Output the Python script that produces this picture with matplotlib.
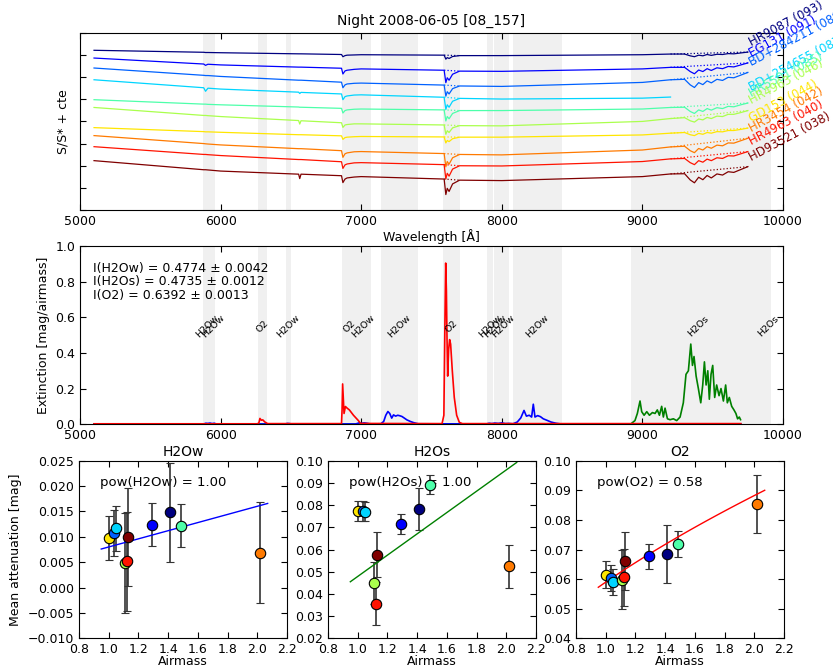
import matplotlib
matplotlib.use('Agg')
import matplotlib.pyplot as plt
from matplotlib.ticker import MultipleLocator
import numpy as np

plt.rcParams['font.family'] = 'DejaVu Sans'
plt.rcParams['font.size'] = 9
plt.rcParams['xtick.direction'] = 'in'
plt.rcParams['ytick.direction'] = 'in'
plt.rcParams['xtick.top'] = True
plt.rcParams['ytick.right'] = True
plt.rcParams['xtick.major.size'] = 4
plt.rcParams['ytick.major.size'] = 4

# Standard stars of the night (top to bottom in the spectra panel)
star_names = ['HR9087', 'EG131', 'BD+284211', 'BD+254655', 'HR5501',
              'HR4963', 'GD153', 'HR3454', 'HR4963', 'HD93521']
star_ids = ['093', '091', '089', '087', '085', '046', '044', '042', '040', '038']
airmass = [1.41, 1.29, 1.035, 1.05, 1.485, 1.11, 1.00, 2.02, 1.125, 1.13]

# Normalised spectra S/S* + cte
wl_spec = [5100, 5880, 5893, 5910, 6000, 6555, 6563, 6572, 6860, 6870, 6885, 6900,
           6950, 7000, 7590, 7602, 7612, 7625, 7650, 7700, 8000, 9000, 9200, 9300,
           9340, 9370, 9400, 9430, 9460, 9490, 9530, 9570, 9610, 9650, 9700, 9750]
hr9087 = [7.21, 7.12, 7.11, 7.11, 7.10, 7.05, 7.05, 7.05, 7.02, 6.92, 6.97, 6.99,
          7.00, 7.01, 6.99, 6.81, 6.88, 6.84, 6.93, 6.97, 6.97, 7.01, 7.04, 7.04,
          6.96, 6.92, 6.99, 6.96, 7.02, 6.98, 7.03, 7.02, 7.06, 7.05, 7.09, 7.13]
eg131 = [6.86, 6.59, 6.53, 6.58, 6.55, 6.45, 6.45, 6.45, 6.40, 6.14, 6.28, 6.31,
         6.35, 6.37, 6.31, 5.75, 5.97, 5.86, 6.13, 6.27, 6.26, 6.37, 6.44, 6.44,
         6.25, 6.15, 6.32, 6.25, 6.38, 6.30, 6.42, 6.38, 6.48, 6.46, 6.55, 6.64]
bd284211 = [6.41, 6.08, 6.07, 6.07, 6.03, 5.86, 5.86, 5.86, 5.77, 5.52, 5.65, 5.69,
            5.72, 5.73, 5.64, 5.14, 5.34, 5.24, 5.48, 5.60, 5.58, 5.76, 5.88, 5.90,
            5.65, 5.53, 5.75, 5.66, 5.83, 5.74, 5.90, 5.85, 5.99, 5.97, 6.09, 6.21]
bd254655 = [5.88, 5.52, 5.36, 5.50, 5.46, 5.32, 5.26, 5.31, 5.24, 4.98, 5.12, 5.15,
            5.19, 5.20, 5.09, 4.54, 4.75, 4.64, 4.91, 5.04, 5.01, 5.05, 5.10] + [np.nan] * 13
hr5501 = [4.98, 4.78, 4.78, 4.77, 4.75, 4.65, 4.64, 4.64, 4.59, 4.38, 4.49, 4.52,
          4.55, 4.56, 4.52, 4.02, 4.22, 4.12, 4.36, 4.49, 4.49, 4.56, 4.63, 4.64,
          4.45, 4.36, 4.52, 4.45, 4.58, 4.51, 4.62, 4.58, 4.68, 4.66, 4.75, 4.83]
hr4963_a = [4.63, 4.27, 4.27, 4.26, 4.22, 4.04, 3.88, 4.03, 3.94, 3.73, 3.84, 3.86,
            3.89, 3.89, 3.84, 3.42, 3.58, 3.50, 3.71, 3.81, 3.80, 4.00, 4.13, 4.17,
            4.03, 3.97, 4.11, 4.07, 4.18, 4.13, 4.24, 4.22, 4.32, 4.32, 4.40, 4.49]
gd153 = [3.72, 3.54, 3.53, 3.53, 3.51, 3.40, 3.40, 3.40, 3.35, 3.19, 3.27, 3.29,
         3.31, 3.32, 3.30, 3.03, 3.14, 3.09, 3.22, 3.29, 3.29, 3.39, 3.47, 3.50,
         3.40, 3.36, 3.46, 3.42, 3.50, 3.47, 3.54, 3.53, 3.59, 3.59, 3.64, 3.70]
hr3454 = [3.36, 3.00, 2.99, 2.98, 2.94, 2.77, 2.77, 2.77, 2.68, 2.38, 2.54, 2.58,
          2.63, 2.64, 2.55, 1.95, 2.19, 2.07, 2.36, 2.51, 2.49, 2.71, 2.85, 2.88,
          2.68, 2.59, 2.78, 2.71, 2.86, 2.79, 2.93, 2.90, 3.03, 3.02, 3.13, 3.24]
hr4963_b = [2.86, 2.51, 2.51, 2.50, 2.46, 2.28, 2.28, 2.28, 2.18, 1.88, 2.04, 2.08,
            2.13, 2.14, 2.05, 1.40, 1.66, 1.53, 1.85, 2.00, 1.99, 2.19, 2.31, 2.33,
            2.14, 2.05, 2.23, 2.16, 2.30, 2.23, 2.36, 2.33, 2.45, 2.44, 2.54, 2.64]
hd93521 = [2.23, 1.82, 1.82, 1.81, 1.76, 1.62, 1.42, 1.62, 1.55, 1.24, 1.40, 1.45,
           1.49, 1.51, 1.40, 0.70, 0.98, 0.84, 1.18, 1.35, 1.33, 1.51, 1.63, 1.64,
           1.36, 1.23, 1.48, 1.37, 1.56, 1.45, 1.63, 1.58, 1.73, 1.70, 1.83, 1.96]
spectra = [hr9087, eg131, bd284211, bd254655, hr5501,
           hr4963_a, gd153, hr3454, hr4963_b, hd93521]

# Telluric bands
band_lo = [5877, 5937, 6268, 6466, 6865, 6967, 7141, 7580, 7893, 7943, 7975, 8082, 8916, 9880]
band_hi = [5937, 5963, 6327, 6500, 6967, 7067, 7406, 7703, 7940, 7970, 8053, 8426, 9880, 9912]
band_name = ['H2Ow', 'H2Ow', 'O2', 'H2Ow', 'O2', 'H2Ow', 'H2Ow', 'O2',
             'H2Ow', 'H2Ow', 'H2Ow', 'H2Ow', 'H2Os', 'H2Os']

# Extinction per component [mag/airmass]
wl_o2 = [5100, 6260, 6272, 6280, 6290, 6300, 6315, 6335, 6860, 6864, 6868, 6878,
         6888, 6900, 6916, 6945, 6980, 6995, 7575, 7588, 7596, 7601, 7606, 7610,
         7615, 7622, 7629, 7636, 7648, 7662, 7679, 7698, 7720, 9700]
ext_o2 = [0.002, 0.002, 0.006, 0.032, 0.022, 0.024, 0.012, 0.003, 0.003, 0.08, 0.226, 0.06,
          0.099, 0.09, 0.08, 0.05, 0.02, 0.004, 0.003, 0.05, 0.60, 0.905, 0.75, 0.50,
          0.27, 0.42, 0.475, 0.45, 0.30, 0.15, 0.05, 0.01, 0.003, 0.003]
wl_h2ow = [5100, 5880, 5895, 5910, 5925, 5940, 5955, 5970, 6460, 6475, 6490, 6505,
           6960, 6985, 7000, 7020, 7040, 7065, 7140, 7160, 7175, 7190, 7203, 7217,
           7230, 7245, 7260, 7275, 7290, 7305, 7325, 7350, 7375, 7405, 7890, 7910,
           7930, 7950, 7975, 8000, 8025, 8050, 8080, 8110, 8135, 8158, 8175, 8195,
           8212, 8224, 8236, 8255, 8275, 8295, 8320, 8350, 8385, 8420, 9700]
ext_h2ow = [0.001, 0.001, 0.005, 0.004, 0.006, 0.003, 0.005, 0.001, 0.001, 0.004, 0.003, 0.001,
            0.001, 0.007, 0.004, 0.007, 0.005, 0.001, 0.002, 0.015, 0.05, 0.071, 0.06, 0.034,
            0.052, 0.045, 0.050, 0.047, 0.043, 0.035, 0.024, 0.015, 0.008, 0.002, 0.001, 0.005,
            0.003, 0.006, 0.004, 0.007, 0.003, 0.004, 0.002, 0.012, 0.035, 0.077, 0.045, 0.05,
            0.04, 0.112, 0.04, 0.048, 0.042, 0.03, 0.022, 0.012, 0.005, 0.001, 0.001]
wl_h2os = [5100, 8916, 8947, 8964, 8983, 8995, 9012, 9031, 9050, 9071, 9090, 9106,
           9121, 9137, 9149, 9161, 9178, 9197, 9220, 9244, 9268, 9291, 9310, 9327,
           9344, 9356, 9367, 9382, 9398, 9415, 9429, 9441, 9453, 9465, 9476, 9488,
           9500, 9514, 9528, 9545, 9559, 9576, 9592, 9604, 9618, 9635, 9651, 9665,
           9677, 9689, 9698]
ext_h2os = [0.0, 0.0, 0.02, 0.06, 0.13, 0.07, 0.05, 0.07, 0.05, 0.065, 0.06, 0.08,
            0.05, 0.10, 0.04, 0.09, 0.03, 0.025, 0.03, 0.02, 0.04, 0.12, 0.28, 0.30,
            0.45, 0.33, 0.38, 0.27, 0.20, 0.12, 0.22, 0.35, 0.22, 0.30, 0.14, 0.28,
            0.33, 0.15, 0.22, 0.16, 0.20, 0.13, 0.22, 0.12, 0.15, 0.10, 0.08, 0.06,
            0.03, 0.04, 0.025]

# Integrated intensities
intens_name = ['H2Ow', 'H2Os', 'O2']
intens_val = [0.4774, 0.4735, 0.6392]
intens_err = [0.0042, 0.0012, 0.0013]

# Mean attenuation per star (same star order as above)
att_h2ow = [0.0148, 0.0124, 0.0107, 0.0117, 0.0122, 0.0049, 0.0098, 0.0069, 0.0052, 0.0100]
err_h2ow = [0.0097, 0.0043, 0.0045, 0.0044, 0.0043, 0.0098, 0.0043, 0.0099, 0.0097, 0.0096]
att_h2os = [0.0783, 0.0713, 0.0772, 0.0770, 0.0891, 0.0451, 0.0773, 0.0524, 0.0357, 0.0577]
err_h2os = [0.0095, 0.0045, 0.0044, 0.0043, 0.0043, 0.0094, 0.0045, 0.0097, 0.0097, 0.0100]
att_o2 = [0.0685, 0.0677, 0.0604, 0.0591, 0.0719, 0.0598, 0.0615, 0.0853, 0.0606, 0.0660]
err_o2 = [0.0097, 0.0043, 0.0044, 0.0043, 0.0043, 0.0099, 0.0045, 0.0098, 0.0097, 0.0098]

# attenuation = coef * airmass**pow
fit_coef = [0.0080, 0.0479, 0.0590]
fit_pow = [1.00, 1.00, 0.58]

colors = plt.cm.jet(np.linspace(0, 1, len(star_names)))

fig = plt.figure(figsize=(8.33, 6.69), dpi=100)
ax1 = fig.add_axes([0.096, 0.686, 0.844, 0.265])
ax2 = fig.add_axes([0.096, 0.366, 0.844, 0.266])

for ax in (ax1, ax2):
    for lo, hi in zip(band_lo, band_hi):
        ax.axvspan(lo, hi, color='0.94', lw=0, zorder=0)
    ax.set_xlim(5000, 10000)

# --- spectra
for i, flux in enumerate(spectra):
    flux = np.array(flux, dtype=float)
    ax1.plot(wl_spec, flux, color=colors[i], lw=0.9)
    # continuum across the A band and the H2Os region
    for a, b in ((14, 19), (22, 35)):
        if np.isfinite(flux[b]):
            ax1.plot([wl_spec[a], wl_spec[b]], [flux[a], flux[b]], ':',
                     color=colors[i], lw=0.9)
    last = np.where(np.isfinite(flux))[0][-1]
    ax1.text(9745, flux[last] + 0.15, '%s (%s)' % (star_names[i], star_ids[i]),
             color=colors[i], rotation=28, ha='left', va='bottom',
             fontsize=8.5, clip_on=False)

ax1.set_ylim(0, 8)
ax1.set_yticks(range(0, 9))
ax1.set_yticklabels([])
ax1.set_ylabel('S/S* + cte')
ax1.set_xlabel('Wavelength [\u00c5]', labelpad=1)
ax1.set_title('Night 2008-06-05 [08_157]', fontsize=10)

# --- extinction
ax2.plot(wl_h2os, ext_h2os, color='g', lw=1.2)
ax2.plot(wl_h2ow, ext_h2ow, color='b', lw=1.2)
ax2.plot(wl_o2, ext_o2, color='r', lw=1.2)
for lo, hi, name in zip(band_lo, band_hi, band_name):
    ax2.text(0.5 * (lo + hi), 0.55, name, rotation=45, ha='center', va='center',
             fontsize=6.8)
for k in range(3):
    ax2.text(0.018, 0.876 - 0.076 * k,
             'I(%s) = %.4f \u00b1 %.4f' % (intens_name[k], intens_val[k], intens_err[k]),
             transform=ax2.transAxes, ha='left', va='center', fontsize=9)
ax2.set_ylim(0, 1)
ax2.set_ylabel('Extinction [mag/airmass]')

# --- attenuation vs airmass
order = np.argsort(airmass)
panels = [('H2Ow', att_h2ow, err_h2ow, 'b', (-0.010, 0.025), 0.005),
          ('H2Os', att_h2os, err_h2os, 'g', (0.02, 0.10), 0.01),
          ('O2', att_o2, err_o2, 'r', (0.04, 0.10), 0.01)]
lefts = [0.0948, 0.3938, 0.6915]
xfit = np.linspace(min(airmass) - 0.05, max(airmass) + 0.05, 50)
for k, (name, att, err, col, ylim, ystep) in enumerate(panels):
    ax = fig.add_axes([lefts[k], 0.0456, 0.2497, 0.266])
    for i in order:
        ax.errorbar(airmass[i], att[i], yerr=err[i], fmt='o', ms=7.5,
                    color=colors[i], mec='k', mew=0.8, ecolor='0.2',
                    elinewidth=1.2, capsize=3, capthick=1.0)
    ax.plot(xfit, fit_coef[k] * xfit ** fit_pow[k], color=col, lw=1.0)
    ax.text(0.10, 0.877, 'pow(%s) = %.2f' % (name, fit_pow[k]),
            transform=ax.transAxes, ha='left', va='center', fontsize=9.5, zorder=0)
    ax.set_xlim(0.8, 2.2)
    ax.set_ylim(*ylim)
    ax.xaxis.set_major_locator(MultipleLocator(0.2))
    ax.yaxis.set_major_locator(MultipleLocator(ystep))
    ax.set_title(name, fontsize=10, pad=3)
    ax.set_xlabel('Airmass', labelpad=-1)
    if k == 0:
        ax.set_ylabel('Mean attenuation [mag]')

fig.savefig('out.png', dpi=100)
